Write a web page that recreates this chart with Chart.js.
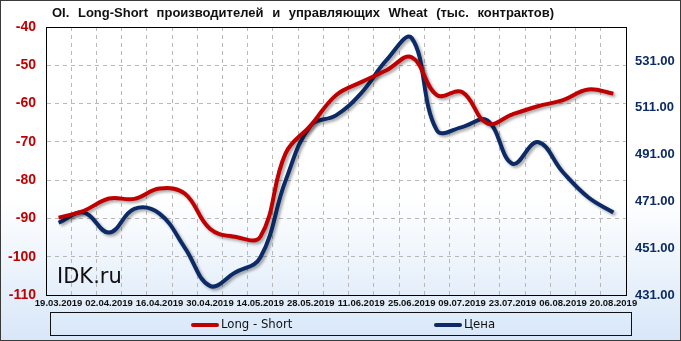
<!DOCTYPE html>
<html>
<head>
<meta charset="utf-8">
<script src="https://cdn.jsdelivr.net/npm/chart.js@4"></script>
<style>
  html, body { margin: 0; padding: 0; }
  #wrap {
    position: relative; width: 681px; height: 341px; box-sizing: border-box;
    border: 1px solid #3a3a3a;
    background: linear-gradient(to bottom, #ffffff 0%, #ffffff 58%, #d8e7f8 100%);
    font-family: "Liberation Sans", Arial, sans-serif;
  }
  #chart { position: absolute; left: -1px; top: -1px; }
  #title {
    position: absolute; left: 51px; top: 4px; font-weight: bold; font-size: 13px; color: #111;
    white-space: nowrap; word-spacing: 5px;
  }
  #legend {
    position: absolute; left: 49px; top: 311px; width: 582px; height: 24px; box-sizing: border-box;
    border: 1px solid #111; font-family: "DejaVu Sans Condensed", sans-serif; font-size: 13px; color: #111;
  }
  .item { position: absolute; top: 3px; line-height: 16px; white-space: nowrap; }
  .sw { display: inline-block; width: 28px; height: 4px; border-radius: 2px; vertical-align: middle; margin-right: 2px; }
</style>
</head>
<body>
<div id="wrap">
  <canvas id="chart" width="681" height="341"></canvas>
  <div id="title">OI. Long-Short производителей и управляющих Wheat (тыс. контрактов)</div>
  <div id="legend">
    <span class="item" style="left:140px"><span class="sw" style="background:#c00000"></span>Long - Short</span>
    <span class="item" style="left:383px"><span class="sw" style="background:#0b2a66"></span>Цена</span>
  </div>
</div>
<script>
// даты (каждую неделю)
const dates = ["19.03.2019", "26.03.2019", "02.04.2019", "09.04.2019", "16.04.2019", "23.04.2019",
  "30.04.2019", "07.05.2019", "14.05.2019", "21.05.2019", "28.05.2019", "04.06.2019", "11.06.2019",
  "18.06.2019", "25.06.2019", "02.07.2019", "09.07.2019", "16.07.2019", "23.07.2019", "30.07.2019",
  "06.08.2019", "13.08.2019", "20.08.2019"];

const longShort = [-89.8, -88, -84.8, -84.9, -82.2, -83.5, -92.7, -94.8, -94.8, -73, -65.7, -57.8,
  -54.4, -51.3, -47.9, -57.8, -57, -65.2, -62.8, -60.7, -59.1, -56.3, -57.4];

const price = [461.9, 466.3, 457.7, 467.8, 465.8, 451.3, 434.9, 440.6, 447, 479.9, 503.5, 507.8,
  517.3, 531.4, 540.9, 501.4, 502.8, 505.7, 487.1, 496.4, 483.5, 472.8, 466.3];

const priceTicks = [431, 451, 471, 491, 511, 531];

const shadow = {
  id: "shadow",
  beforeDatasetDraw(chart) {
    const ctx = chart.ctx;
    ctx.save();
    ctx.shadowColor = "rgba(0,0,0,0.35)";
    ctx.shadowBlur = 3;
    ctx.shadowOffsetX = 2;
    ctx.shadowOffsetY = 2;
  },
  afterDatasetDraw(chart) {
    chart.ctx.restore();
  }
};

const frame = {
  id: "frame",
  beforeDatasetsDraw(chart) {
    const { ctx, chartArea: a } = chart;
    ctx.save();
    ctx.font = "21px 'DejaVu Sans'";
    ctx.fillStyle = "#111";
    ctx.fillText("IDK.ru", a.left + 11, 283);
    ctx.strokeStyle = "#000";
    ctx.lineWidth = 1;
    ctx.strokeRect(a.left + 0.5, a.top + 0.5, a.right - a.left, a.bottom - a.top);
    ctx.restore();
  }
};

new Chart(document.getElementById("chart"), {
  type: "line",
  data: {
    labels: dates,
    datasets: [{
      label: "Long - Short",
      data: longShort,
      yAxisID: "y",
      borderColor: "#c00000",
      borderWidth: 4,
      pointRadius: 0,
      tension: 0.4,
      fill: false
    }, {
      label: "Цена",
      data: price,
      yAxisID: "y1",
      borderColor: "#0b2a66",
      borderWidth: 4,
      pointRadius: 0,
      tension: 0.4,
      fill: false
    }]
  },
  options: {
    responsive: false,
    animation: false,
    events: [],
    layout: { padding: { top: 27, bottom: 34, left: 0, right: 0 } },
    plugins: { legend: { display: false }, tooltip: { enabled: false } },
    scales: {
      x: {
        offset: true,
        grid: { offset: true, color: "#b8b8b8", drawTicks: false },
        border: { color: "#000", dash: [4, 4] },
        ticks: {
          autoSkip: false, maxRotation: 0, padding: 3, color: "#111",
          font: { family: "Liberation Sans", size: 9.5, weight: "bold" },
          callback: (v, i) => (i % 2 === 0 ? dates[i] : "")
        },
        afterFit: s => { s.height = 12; }
      },
      y: {
        position: "left",
        min: -110, max: -40,
        grid: { color: "#b8b8b8", drawTicks: false },
        border: { color: "#000", dash: [4, 4] },
        ticks: {
          stepSize: 10, padding: 10, color: "#c00000",
          font: { family: "Liberation Sans", size: 14, weight: "bold" }
        },
        afterFit: s => { s.width = 46; }
      },
      y1: {
        position: "right",
        min: 431, max: 545.6,
        grid: { display: false, drawTicks: false },
        border: { color: "#000" },
        afterBuildTicks: s => { s.ticks = priceTicks.map(v => ({ value: v })); },
        ticks: {
          padding: 9, color: "#0b2a66",
          font: { family: "Liberation Sans", size: 13, weight: "bold" },
          callback: v => v.toFixed(2)
        },
        afterFit: s => { s.width = 55; }
      }
    }
  },
  plugins: [shadow, frame]
});
</script>
</body>
</html>
